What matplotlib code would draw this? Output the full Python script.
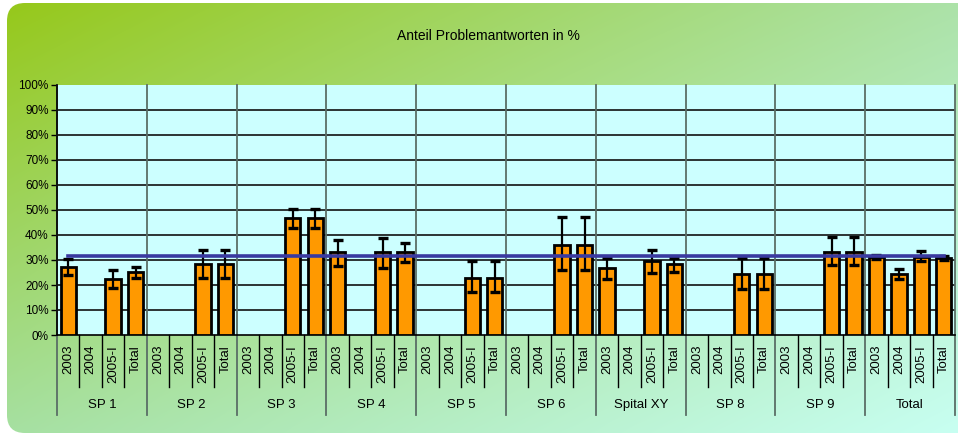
import numpy as np
import matplotlib
matplotlib.use("Agg")
import matplotlib.pyplot as plt
from matplotlib.patches import FancyBboxPatch
import matplotlib.transforms as mtransforms

# chart data (values in %)
groups = ["SP 1", "SP 2", "SP 3", "SP 4", "SP 5", "SP 6", "Spital XY", "SP 8", "SP 9", "Total"]
periods = ["2003", "2004", "2005-I", "Total"]
nan = np.nan
values = [
    [27.3, nan, 22.4, 25.3],
    [nan, nan, 28.4, 28.4],
    [nan, nan, 46.7, 46.7],
    [33.1, nan, 33.1, 33.1],
    [nan, nan, 22.9, 22.9],
    [nan, nan, 36.1, 36.1],
    [26.7, nan, 29.6, 28.3],
    [nan, nan, 24.4, 24.4],
    [nan, nan, 33.3, 33.3],
    [31.1, 24.4, 31.2, 30.8],
]
err_high = [
    [30.4, nan, 26.0, 27.2],
    [nan, nan, 34.0, 34.0],
    [nan, nan, 50.3, 50.3],
    [38.0, nan, 38.7, 36.7],
    [nan, nan, 29.6, 29.6],
    [nan, nan, 47.1, 47.1],
    [30.8, nan, 33.9, 30.8],
    [nan, nan, 30.7, 30.7],
    [nan, nan, 39.1, 39.1],
    [32.1, 26.5, 33.5, 31.5],
]
err_low = [
    [24.0, nan, 19.0, 23.0],
    [nan, nan, 22.7, 22.7],
    [nan, nan, 42.9, 42.9],
    [27.7, nan, 27.0, 29.2],
    [nan, nan, 17.2, 17.2],
    [nan, nan, 26.0, 26.0],
    [22.3, nan, 24.8, 25.3],
    [nan, nan, 18.5, 18.5],
    [nan, nan, 27.9, 27.9],
    [30.3, 22.3, 29.5, 30.1],
]
mean_value = 31.7
yticks = np.arange(0, 101, 10)

font = ["Liberation Sans", "DejaVu Sans"]

W, H = 958, 437
fig = plt.figure(figsize=(W / 100, H / 100), dpi=100)
fig.patch.set_facecolor("white")

# background card with diagonal gradient
bg = fig.add_axes([0, 0, 1, 1], zorder=0)
bg.set_xlim(0, W)
bg.set_ylim(H, 0)
bg.axis("off")
tl = np.array([150, 200, 25]) / 255
tr = np.array([172, 226, 168]) / 255
bl = np.array([166, 224, 162]) / 255
br = np.array([200, 255, 242]) / 255
u = np.linspace(0, 1, 200)[None, :, None]
v = np.linspace(0, 1, 100)[:, None, None]
grad = (1 - u) * (1 - v) * tl + u * (1 - v) * tr + (1 - u) * v * bl + u * v * br
im = bg.imshow(grad, extent=(0, W, H, 0), aspect="auto", interpolation="bilinear")
card = FancyBboxPatch((7, 3), 990, 430, boxstyle="round,pad=0,rounding_size=18",
                      transform=bg.transData, facecolor="none", edgecolor="none")
bg.add_patch(card)
im.set_clip_path(card)

# plot area
x0, x1, ytop, ybot = 57, 955, 85, 335
ax = fig.add_axes([x0 / W, 1 - ybot / H, (x1 - x0) / W, (ybot - ytop) / H], zorder=1)
ax.set_facecolor("#ccffff")

n_per = len(periods)
n = len(groups) * n_per
ax.set_xlim(0, n)
ax.set_ylim(0, 100)

vals = np.array(values).ravel()
hi = np.array(err_high).ravel()
lo = np.array(err_low).ravel()
xs = np.arange(n) + 0.5
ok = ~np.isnan(vals)

for y in yticks[1:-1]:
    ax.axhline(y, color="#111111", lw=1.2, zorder=1)

ax.bar(xs[ok], vals[ok], width=0.68, color="#ff9900", edgecolor="black", lw=2.0, zorder=3)
ax.errorbar(xs[ok], vals[ok], yerr=[vals[ok] - lo[ok], hi[ok] - vals[ok]], fmt="none",
            ecolor="black", elinewidth=1.6, capsize=3.5, capthick=2.4, zorder=4)
ax.plot([xs[0], xs[-1]], [mean_value, mean_value], color="#3a3aa0", lw=2.6, zorder=5)

ax.set_yticks(yticks)
ax.set_yticklabels([f"{t}%" for t in yticks], family=font, fontsize=8.5)
ax.tick_params(axis="y", length=4, width=1, pad=2, color="black")
ax.set_xticks([])
for s in ["top", "right"]:
    ax.spines[s].set_visible(False)
ax.spines["left"].set_linewidth(1.2)
ax.spines["bottom"].set_linewidth(1.2)

trans = mtransforms.blended_transform_factory(ax.transData, ax.transAxes)
px = 1 / (ybot - ytop)
# group separators
for g in range(len(groups) + 1):
    ax.plot([g * n_per, g * n_per], [-(415 - ybot) * px, 1], color="#5a6e66", lw=1.3,
            transform=trans, clip_on=False, zorder=2)
# category separators and labels
for i in range(n):
    if i % n_per:
        ax.plot([i, i], [-(387 - ybot) * px, 0], color="black", lw=1.0,
                transform=trans, clip_on=False)
    ax.text(xs[i], -(345 - ybot) * px, periods[i % n_per], rotation=90, ha="center", va="top",
            fontsize=9.5, family=font, transform=trans)
for g, name in enumerate(groups):
    ax.text(g * n_per + n_per / 2, -(405 - ybot) * px, name, ha="center", va="center",
            fontsize=9.5, family=font, transform=trans)

fig.text(488 / W, 1 - 35.5 / H, "Anteil Problemantworten in %", ha="center", va="center",
         fontsize=10, family=font)

fig.savefig("out.png", dpi=100)
